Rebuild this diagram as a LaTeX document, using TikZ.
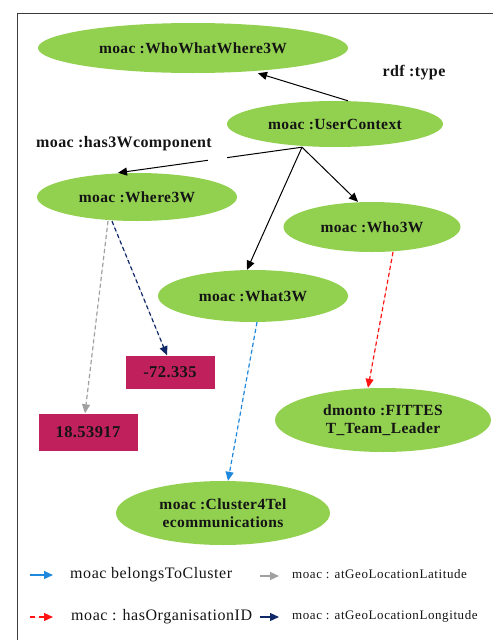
\documentclass[tikz,border=0pt]{standalone}
\usepackage{fontspec}
\setmainfont{Liberation Serif}
\newfontfamily\spacedA[LetterSpace=2.5]{Liberation Serif}
\newfontfamily\spacedL[LetterSpace=3.5]{Liberation Serif}
\newfontfamily\spacedR[LetterSpace=4.5]{Liberation Serif}
\usetikzlibrary{shapes.geometric,arrows.meta}
\definecolor{leaf}{RGB}{146,208,80}
\definecolor{crim}{RGB}{192,32,92}
\definecolor{navyc}{RGB}{16,40,104}
\definecolor{bluec}{RGB}{30,136,220}
\definecolor{grayc}{RGB}{160,160,160}
\definecolor{redc}{RGB}{255,20,20}
\definecolor{framec}{RGB}{60,60,60}
\definecolor{inkc}{RGB}{20,20,20}
\begin{document}
\begin{tikzpicture}[x=1pt,y=-1pt,
  ell/.style={ellipse,fill=leaf,inner sep=0pt,align=center,text=inkc,
    font=\spacedA\fontsize{15.5}{18}\selectfont\bfseries},
  valbox/.style={rectangle,fill=crim,inner sep=0pt,text=inkc,
    font=\spacedA\fontsize{16.5}{18}\selectfont\bfseries},
  lbl/.style={inner sep=0pt,text=inkc,font=\spacedA\fontsize{16}{18}\selectfont\bfseries},
  solidarr/.style={draw=black,line width=1pt,-{Triangle[length=9pt,width=8pt]}},
  dasharr/.style={line width=1.2pt,dash pattern=on 4pt off 3pt,-{Triangle[length=9pt,width=8pt]}},
  legL/.style={inner sep=0pt,anchor=west,text=inkc,font=\spacedL\fontsize{16}{18}\selectfont},
  legR/.style={inner sep=0pt,anchor=west,text=inkc,font=\spacedR\fontsize{13}{15}\selectfont},
  legarr/.style={line width=1.3pt,-{Triangle[length=9pt,width=8pt]}}
]
\useasboundingbox (0,0) rectangle (493,640);
\draw[framec,line width=1pt] (17,640) -- (17,13) -- (493,13);

% nodes
\node[ell,minimum width=310pt,minimum height=50pt] (www) at (193,48) {moac :WhoWhatWhere3W};
\node[ell,minimum width=216pt,minimum height=46pt] (uc) at (335,124) {moac :UserContext};
\node[ell,minimum width=200pt,minimum height=48pt] (where) at (137,197) {moac :Where3W};
\node[ell,minimum width=177pt,minimum height=50pt] (who) at (372,227) {moac :Who3W};
\node[ell,minimum width=190pt,minimum height=52pt] (what) at (253,296) {moac :What3W};
\node[ell,minimum width=216pt,minimum height=64pt] (fit) at (383,420) {dmonto :FITTES\\T\_Team\_Leader};
\node[ell,minimum width=214pt,minimum height=64pt] (clu) at (223,513) {moac :Cluster4Tel\\ecommunications};
\node[valbox,minimum width=89pt,minimum height=33pt] (lon) at (170,372) {-72.335};
\node[valbox,minimum width=99pt,minimum height=37pt] (lat) at (88,432) {18.53917};

\node[lbl] (rdft) at (414,73) {rdf :type};
\node[lbl] (hasw) at (124,144) {moac :has3Wcomponent};

% solid connectors
\draw[solidarr] ([xshift=13pt]uc.north) -- ([xshift=65pt]www.south);
\coordinate (hub) at ([xshift=-33pt]uc.south);
\draw[solidarr] (hub) -- node[pos=0.46,fill=white,inner sep=0pt,minimum width=19pt,minimum height=4pt]{} ([xshift=-19pt]where.north);
\draw[solidarr] (hub) -- ([xshift=-14pt]who.north);
\draw[solidarr] (hub) -- ([xshift=-6pt]what.north);

% dashed connectors
\draw[dasharr,draw=navyc,fill=navyc] ([xshift=-25pt]where.south) -- ([xshift=-3pt]lon.north);
\draw[dasharr,draw=grayc,fill=grayc] ([xshift=-29pt]where.south) -- ([xshift=-3pt]lat.north);
\draw[dasharr,draw=bluec,fill=bluec] ([xshift=4pt]what.south) -- ([xshift=5pt]clu.north);
\draw[dasharr,draw=redc,fill=redc] ([xshift=21pt]who.south) -- ([xshift=-15pt]fit.north);

% legend
\coordinate (b1) at (30,575); \coordinate (b2) at (53,575);
\coordinate (g1) at (260,576); \coordinate (g2) at (279,576);
\coordinate (r1) at (30,617); \coordinate (r2) at (53,617);
\coordinate (n1) at (260,617); \coordinate (n2) at (279,617);
\draw[legarr,draw=bluec,fill=bluec] (b1) -- (b2);
\draw[legarr,draw=grayc,fill=grayc] (g1) -- (g2);
\draw[legarr,draw=redc,fill=redc,dash pattern=on 5pt off 4pt] (r1) -- (r2);
\draw[legarr,draw=navyc,fill=navyc] (n1) -- (n2);
\node[legL] (lb) at (70,575) {moac belongsToCluster};
\node[legR] (lg) at (292,574) {moac : atGeoLocationLatitude};
\node[legL] (lr) at (71,617) {moac : hasOrganisationID};
\node[legR] (ln) at (292,616) {moac : atGeoLocationLongitude};
\end{tikzpicture}
\end{document}
